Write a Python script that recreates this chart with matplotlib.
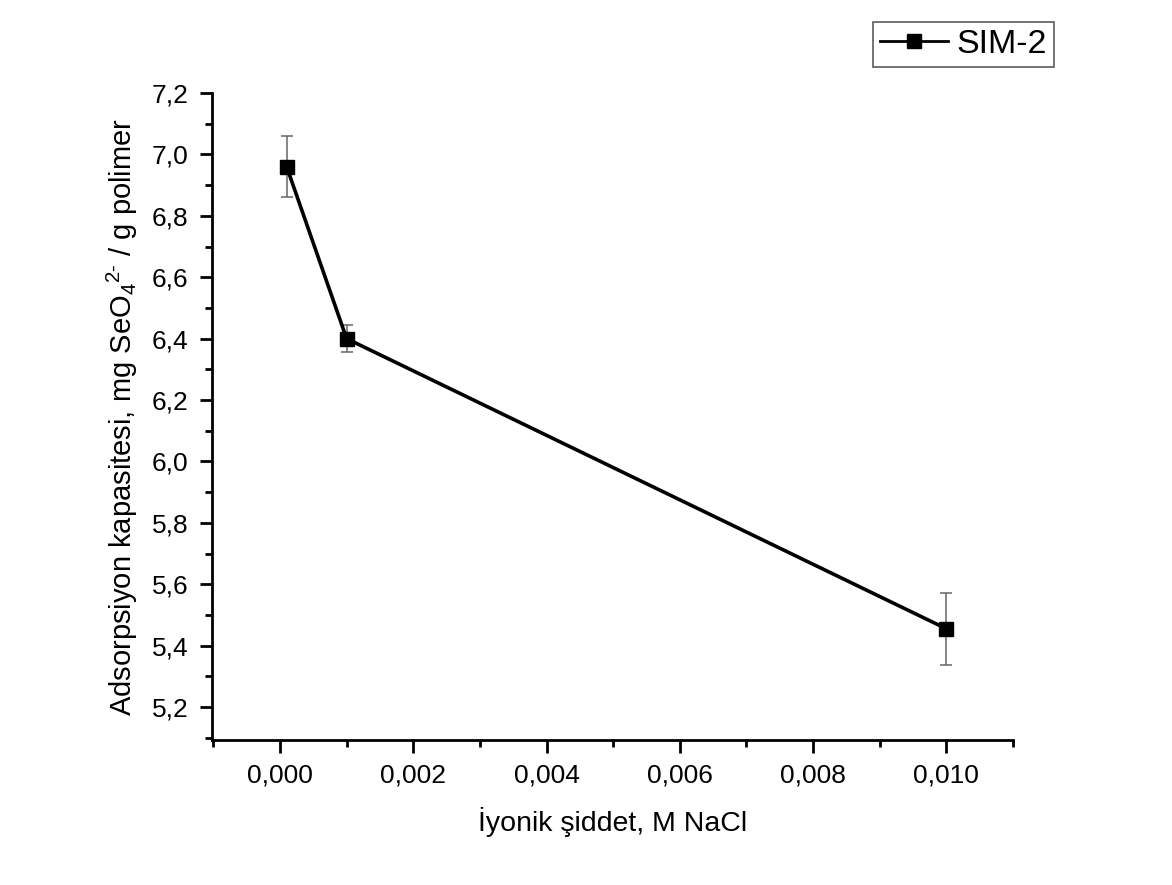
import matplotlib
matplotlib.use("Agg")
import matplotlib.pyplot as plt
from matplotlib.lines import Line2D
from matplotlib.ticker import FuncFormatter, MultipleLocator

plt.rcParams["font.family"] = ["Liberation Sans", "DejaVu Sans"]
plt.rcParams["mathtext.fontset"] = "custom"
plt.rcParams["mathtext.rm"] = "Liberation Sans"
plt.rcParams["mathtext.it"] = "Liberation Sans"

# Data
ionic_strength = [0.0001, 0.001, 0.010]
capacity = [6.96, 6.40, 5.455]
capacity_err = [0.10, 0.045, 0.118]
series_label = "SIM-2"

fig = plt.figure(figsize=(11.72, 8.85), dpi=100)
ax = fig.add_axes([0.1809, 0.1638, 0.6834, 0.7311])

# Error bars (thin grey) then line + square markers
ax.errorbar(ionic_strength, capacity, yerr=capacity_err, fmt="none",
            ecolor="#666666", elinewidth=1.1, capsize=4.5, capthick=1.1, zorder=2)
ax.plot(ionic_strength, capacity, color="black", lw=2.6,
        marker="s", ms=10.5, mfc="black", mec="black", zorder=3)

ax.set_xlim(-0.00102, 0.0110)
ax.set_ylim(5.0925, 7.2)

ax.xaxis.set_major_locator(MultipleLocator(0.002))
ax.xaxis.set_minor_locator(MultipleLocator(0.001))
ax.yaxis.set_major_locator(MultipleLocator(0.2))
ax.yaxis.set_minor_locator(MultipleLocator(0.1))
ax.xaxis.set_major_formatter(FuncFormatter(lambda v, p: f"{v:.3f}".replace(".", ",").replace("-0,000", "0,000")))
ax.yaxis.set_major_formatter(FuncFormatter(lambda v, p: f"{v:.1f}".replace(".", ",")))

for side in ["top", "right"]:
    ax.spines[side].set_visible(False)
for side in ["left", "bottom"]:
    ax.spines[side].set_linewidth(2)

ax.tick_params(which="major", direction="out", length=9, width=2, labelsize=19, pad=8)
ax.tick_params(which="minor", direction="out", length=5, width=2)

ax.set_xlabel("İyonik şiddet, M NaCl", fontsize=20.5, labelpad=14)
ax.set_ylabel("Adsorpsiyon kapasitesi, mg SeO$_4$$^{2\u2010}$ / g polimer",
              fontsize=21, labelpad=8)

# Legend handle: thinner line, smaller square
proxy = Line2D([], [], color="black", lw=2, marker="s", ms=9.5,
               mfc="black", mec="black", label=series_label)
leg = fig.legend(handles=[proxy], loc="upper right",
                 bbox_to_anchor=(1054 / 1172, 1 - 22 / 885),
                 fontsize=24.5, frameon=True, fancybox=False,
                 handlelength=2.0, borderpad=0.2, handletextpad=0.25,
                 borderaxespad=0)
leg.get_frame().set_edgecolor("#333333")
leg.get_frame().set_linewidth(1.2)

fig.savefig("out.png", dpi=100)
